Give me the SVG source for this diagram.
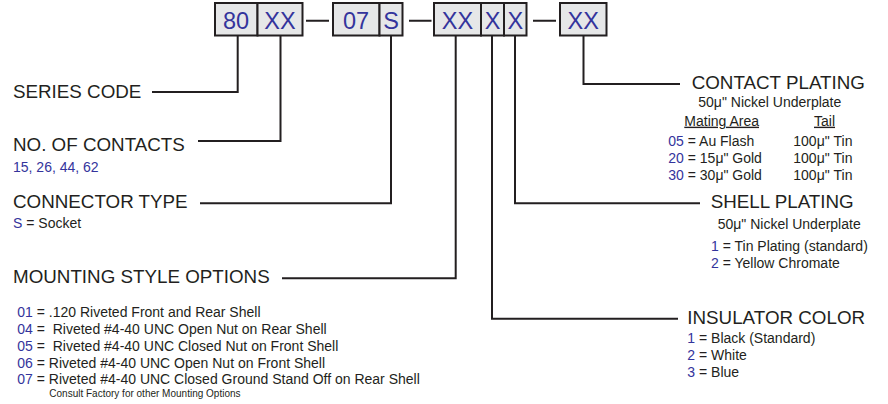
<svg xmlns="http://www.w3.org/2000/svg" width="888" height="404" viewBox="0 0 888 404">
<style>
text{font-family:"Liberation Sans",Arial,sans-serif;fill:#231f20}
.h{font-size:18.8px}
.s{font-size:14px}
.xs{font-size:10px}
.b{fill:#34349c}
.bx{fill:#e6e7e8;stroke:#231f20;stroke-width:2}
.bt{font-size:23.5px;fill:#34349c;text-anchor:middle}
.c{fill:none;stroke:#231f20;stroke-width:2}
</style>
<rect width="888" height="404" fill="#fff"/>
<g id="code">
<g id="box-80"><rect class="bx" x="215" y="3" width="42.5" height="32.5"/><text class="bt" x="236" y="29.3">80</text></g>
<g id="box-xx1"><rect class="bx" x="257.5" y="3" width="45" height="32.5"/><text class="bt" x="280" y="29.3">XX</text></g>
<g id="box-07"><rect class="bx" x="333" y="3" width="46.5" height="32.5"/><text class="bt" x="356" y="29.3">07</text></g>
<g id="box-s"><rect class="bx" x="379.5" y="3" width="23" height="32.5"/><text class="bt" x="391" y="29.3">S</text></g>
<g id="box-xx2"><rect class="bx" x="434" y="3" width="47" height="32.5"/><text class="bt" x="457.5" y="29.3">XX</text></g>
<g id="box-x1"><rect class="bx" x="481" y="3" width="23" height="32.5"/><text class="bt" x="492.5" y="29.3">X</text></g>
<g id="box-x2"><rect class="bx" x="504" y="3" width="22.5" height="32.5"/><text class="bt" x="515.3" y="29.3">X</text></g>
<g id="box-xx3"><rect class="bx" x="560" y="3" width="46.5" height="32.5"/><text class="bt" x="583.3" y="29.3">XX</text></g>
</g>
<g id="connectors">
<path class="c" d="M306 20.7H329M409 20.7H431.5M533 20.7H556"/>
<path class="c" d="M237.7 35.5V92H152"/>
<path class="c" d="M280.5 35.5V141H198"/>
<path class="c" d="M391 35.5V203.3H200"/>
<path class="c" d="M455.7 35.5V278.3H282"/>
<path class="c" d="M492 35.5V318.7H678"/>
<path class="c" d="M515 35.5V203.3H700"/>
<path class="c" d="M583.5 35.5V84H680"/>
</g>
<g id="series-code"><text class="h" x="13" y="98.3">SERIES CODE</text></g>
<g id="no-of-contacts"><text class="h" x="13" y="151">NO. OF CONTACTS</text><text class="s b" x="13" y="171.7">15, 26, 44, 62</text></g>
<g id="connector-type"><text class="h" x="13" y="208.3">CONNECTOR TYPE</text><text class="s" x="13" y="228.3"><tspan class="b">S</tspan> = Socket</text></g>
<g id="mounting-style"><text class="h" x="13" y="283.3">MOUNTING STYLE OPTIONS</text>
<text class="s" x="17.3" y="316.7"><tspan class="b">01</tspan> = .120 Riveted Front and Rear Shell</text>
<text class="s" x="17.3" y="334" xml:space="preserve"><tspan class="b">04</tspan> =  Riveted #4-40 UNC Open Nut on Rear Shell</text>
<text class="s" x="17.3" y="351" xml:space="preserve"><tspan class="b">05</tspan> =  Riveted #4-40 UNC Closed Nut on Front Shell</text>
<text class="s" x="17.3" y="367.7"><tspan class="b">06</tspan> = Riveted #4-40 UNC Open Nut on Front Shell</text>
<text class="s" x="17.3" y="384"><tspan class="b">07</tspan> = Riveted #4-40 UNC Closed Ground Stand Off on Rear Shell</text>
<text class="xs" x="49.3" y="396.7">Consult Factory for other Mounting Options</text>
</g>
<g id="contact-plating"><text class="h" x="691.7" y="89.3">CONTACT PLATING</text>
<text class="s" x="698.3" y="106.7">50μ" Nickel Underplate</text>
<text class="s" x="684.3" y="125.7" text-decoration="underline">Mating Area</text>
<text class="s" x="814" y="125.7" text-decoration="underline">Tail</text>
<text class="s" x="668.3" y="146"><tspan class="b">05</tspan> = Au Flash</text><text class="s" x="793.3" y="146">100μ" Tin</text>
<text class="s" x="668.3" y="163.3"><tspan class="b">20</tspan> = 15μ" Gold</text><text class="s" x="793.3" y="163.3">100μ" Tin</text>
<text class="s" x="668.3" y="180"><tspan class="b">30</tspan> = 30μ" Gold</text><text class="s" x="793.3" y="180">100μ" Tin</text>
</g>
<g id="shell-plating"><text class="h" x="710.7" y="208.3">SHELL PLATING</text>
<text class="s" x="717.7" y="229.3">50μ" Nickel Underplate</text>
<text class="s" x="711" y="251"><tspan class="b">1</tspan> = Tin Plating (standard)</text>
<text class="s" x="711" y="267.7"><tspan class="b">2</tspan> = Yellow Chromate</text>
</g>
<g id="insulator-color"><text class="h" x="687.3" y="324.3">INSULATOR COLOR</text>
<text class="s" x="687.3" y="343.3"><tspan class="b">1</tspan> = Black (Standard)</text>
<text class="s" x="687.3" y="360"><tspan class="b">2</tspan> = White</text>
<text class="s" x="687.3" y="376.7"><tspan class="b">3</tspan> = Blue</text>
</g>
</svg>
